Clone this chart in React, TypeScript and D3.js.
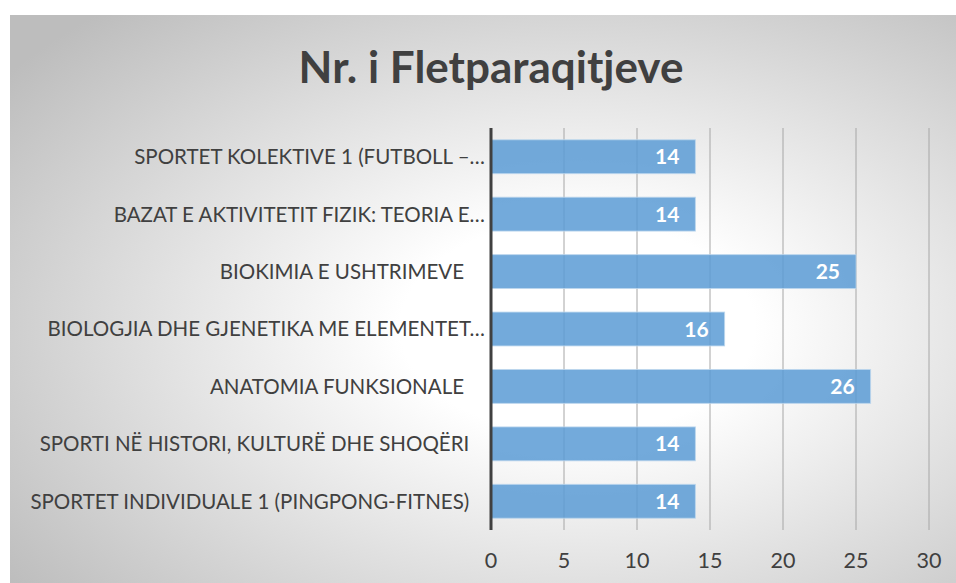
import React from "react";
import * as d3 from "d3";

const title = "Nr. i Fletparaqitjeve";
const categories = [
  "SPORTET KOLEKTIVE 1 (FUTBOLL –…",
  "BAZAT E AKTIVITETIT FIZIK: TEORIA E…",
  "BIOKIMIA E USHTRIMEVE    ",
  "BIOLOGJIA DHE GJENETIKA ME ELEMENTET…",
  "ANATOMIA FUNKSIONALE    ",
  "SPORTI NË HISTORI, KULTURË DHE SHOQËRI   ",
  "SPORTET INDIVIDUALE 1 (PINGPONG-FITNES)   ",
];
const values = [14, 14, 25, 16, 26, 14, 14];
const xTicks = [0, 5, 10, 15, 20, 25, 30];

const W = 956;
const H = 583;
const FONT = "Lato, 'Open Sans', sans-serif";

export default function App() {
  const x = d3.scaleLinear().domain([0, 30]).range([491, 929]);
  const y = d3
    .scaleBand<string>()
    .domain(categories)
    .range([128, 530])
    .paddingInner(0.41)
    .paddingOuter(0.205);

  return (
    <svg
      width={W}
      height={H}
      style={{ position: "absolute", left: 0, top: 0, background: "#fff" }}
    >
      <defs>
        <radialGradient id="bg" cx="0.6" cy="0.55" r="0.75" fx="0.6" fy="0.55">
          <stop offset="0" stopColor="#ffffff" />
          <stop offset="0.25" stopColor="#ffffff" />
          <stop offset="1" stopColor="#bdbdbd" />
        </radialGradient>
      </defs>
      <rect x={10} y={15} width={W - 10} height={H - 15} fill="url(#bg)" />
      <text
        x={491}
        y={83}
        textAnchor="middle"
        fontFamily={FONT}
        fontWeight="bold"
        fontSize={44}
        fill="#404040"
      >
        {title}
      </text>
      {xTicks.slice(1).map((t) => (
        <line
          key={"g" + t}
          x1={x(t)}
          x2={x(t)}
          y1={128}
          y2={530}
          stroke="#a6a6a6"
          strokeWidth={1}
        />
      ))}
      {categories.map((c, i) => (
        <rect
          key={"b" + i}
          x={x(0)}
          y={y(c)}
          width={x(values[i]) - x(0)}
          height={y.bandwidth()}
          fill="#5b9bd5"
          fillOpacity={0.85}
          stroke="#bdd7ee"
          strokeOpacity={0.8}
          strokeWidth={1}
        />
      ))}
      {categories.map((c, i) => (
        <text
          key={"v" + i}
          x={x(values[i]) - 16}
          y={(y(c) as number) + y.bandwidth() / 2}
          dy="0.36em"
          textAnchor="end"
          fontFamily={FONT}
          fontWeight="bold"
          fontSize={21}
          fill="#ffffff"
        >
          {values[i]}
        </text>
      ))}
      <line x1={x(0)} x2={x(0)} y1={128} y2={530} stroke="#404040" strokeWidth={3} />
      {categories.map((c, i) => (
        <text
          key={"c" + i}
          x={485}
          y={(y(c) as number) + y.bandwidth() / 2}
          dy="0.36em"
          textAnchor="end"
          fontFamily={FONT}
          fontSize={20.5}
          fill="#404040"
          style={{ whiteSpace: "pre" }}
        >
          {c}
        </text>
      ))}
      {xTicks.map((t) => (
        <text
          key={"t" + t}
          x={x(t)}
          y={560}
          dy="0.36em"
          textAnchor="middle"
          fontFamily={FONT}
          fontSize={21.5}
          fill="#404040"
        >
          {t}
        </text>
      ))}
    </svg>
  );
}
